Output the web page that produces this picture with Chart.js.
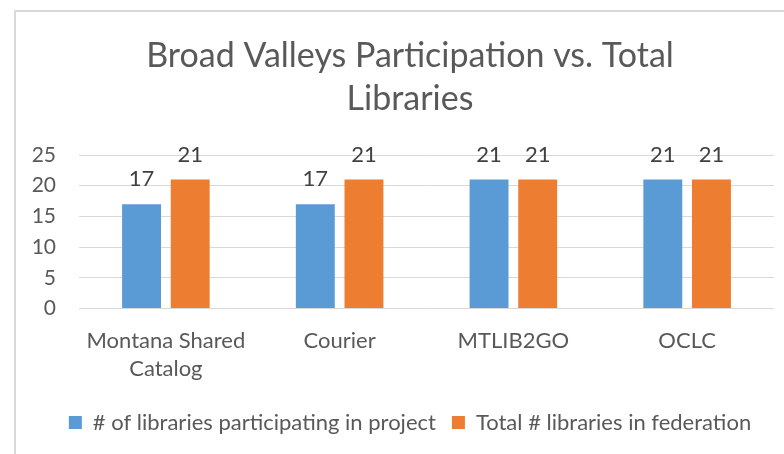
<!DOCTYPE html>
<html>
<head>
<meta charset="utf-8">
<script src="https://cdn.jsdelivr.net/npm/chart.js@4/dist/chart.umd.min.js"></script>
<style>
    html, body { margin: 0; padding: 0; background: #fff; overflow: hidden; }
    #frame {
        position: absolute; left: 14px; top: 10px; width: 800px; height: 460px;
        border-left: 2px solid #d9d9d9; border-top: 2px solid #d9d9d9;
    }
    #wrap { position: absolute; left: 0; top: 0; width: 830px; height: 454px; }
</style>
</head>
<body>
<div id="frame"></div>
<div id="wrap"><canvas id="chart" width="830" height="454"></canvas></div>
<script>
// --- datos ---
const categories = [["Montana Shared", "Catalog"], "Courier", "MTLIB2GO", "OCLC"];
const participating = [17, 17, 21, 21];
const totalLibraries = [21, 21, 21, 21];
const seriesNames = ["# of libraries participating in project", "Total # libraries in federation"];
const titleLines = ["Broad Valleys Participation vs. Total", "Libraries"];

const FONT = "Lato, 'Open Sans', sans-serif";
const GRAY = "#595959";

// etiquetas de valor encima de cada barra
const valueLabels = {
    id: "valueLabels",
    afterDatasetsDraw(chart) {
        const ctx = chart.ctx;
        ctx.save();
        ctx.font = "22px " + FONT;
        ctx.fillStyle = "#404040";
        ctx.textAlign = "center";
        ctx.textBaseline = "middle";
        chart.data.datasets.forEach((ds, i) => {
            chart.getDatasetMeta(i).data.forEach((bar, j) => {
                ctx.fillText(String(ds.data[j]), bar.x, bar.y - 25);
            });
        });
        ctx.restore();
    }
};

new Chart(document.getElementById("chart").getContext("2d"), {
    type: "bar",
    data: {
        labels: categories,
        datasets: [
            { label: seriesNames[0], data: participating, backgroundColor: "#5B9BD5",
              categoryPercentage: 0.56, barPercentage: 0.8 },
            { label: seriesNames[1], data: totalLibraries, backgroundColor: "#ED7D31",
              categoryPercentage: 0.56, barPercentage: 0.8 }
        ]
    },
    options: {
        responsive: false,
        animation: false,
        layout: { padding: { left: 0, right: 10, top: 0, bottom: 10.5 } },
        plugins: {
            title: {
                display: true,
                text: titleLines,
                color: GRAY,
                font: { family: FONT, size: 34, weight: "normal", lineHeight: 1.28 },
                padding: { top: 34, bottom: 34 }
            },
            legend: {
                position: "bottom",
                labels: {
                    color: GRAY,
                    font: { family: FONT, size: 22 },
                    boxWidth: 13, boxHeight: 13,
                    padding: 16
                }
            },
            tooltip: { enabled: false }
        },
        scales: {
            x: {
                grid: { display: false, drawTicks: false },
                border: { display: false },
                ticks: { color: GRAY, font: { family: FONT, size: 22, lineHeight: 1.27 }, padding: 18, maxRotation: 0 },
                afterFit: (s) => { s.height = 87; }
            },
            y: {
                min: 0, max: 25,
                ticks: { stepSize: 5, color: GRAY, font: { family: FONT, size: 21 }, padding: 23 },
                grid: { color: "#d9d9d9", lineWidth: 1, drawTicks: false },
                border: { display: false },
                afterFit: (s) => { s.width = 79; }
            },
            // eje vacío a la derecha: deja el título y la leyenda centrados como en Excel
            y2: {
                position: "right",
                grid: { display: false, drawTicks: false },
                border: { display: false },
                ticks: { display: false },
                afterFit: (s) => { s.width = 46; }
            }
        }
    },
    plugins: [valueLabels]
});
</script>
</body>
</html>
